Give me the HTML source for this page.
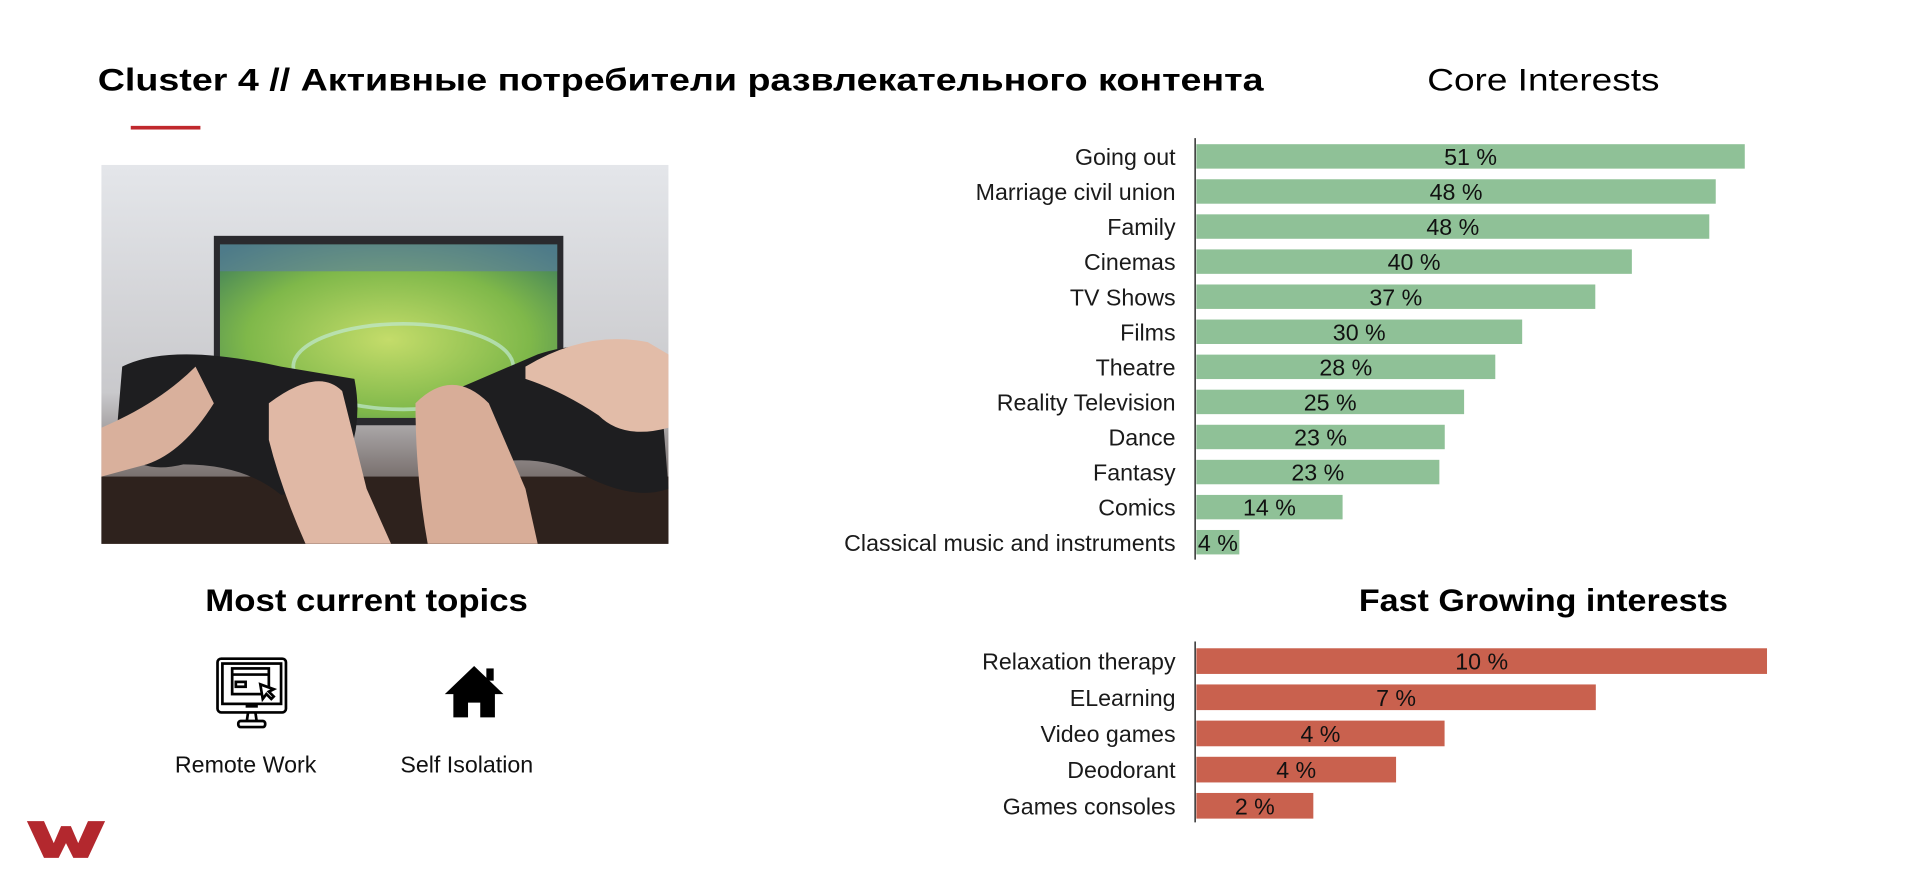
<!DOCTYPE html>
<html><head><meta charset="utf-8">
<style>
html,body{margin:0;padding:0;background:#fff;width:1916px;height:875px;overflow:hidden}
#stage{position:absolute;left:0;top:0;width:1568px;height:716px;transform:scale(1.222,1.222);transform-origin:0 0}
svg text{font-family:"Liberation Sans","Noto Sans CJK SC",sans-serif}
</style></head>
<body>
<div id="stage">
<svg width="1568" height="716" viewBox="0 0 1568 716" xmlns="http://www.w3.org/2000/svg">
  <defs>
    <linearGradient id="bg" x1="0" y1="0" x2="0" y2="1">
      <stop offset="0" stop-color="#e4e6ea"/><stop offset="0.6" stop-color="#c9c9cc"/><stop offset="1" stop-color="#3a2a24"/>
    </linearGradient>
    <radialGradient id="field" cx="0.5" cy="0.55" r="0.7">
      <stop offset="0" stop-color="#c4dc6a"/><stop offset="0.6" stop-color="#7fb84a"/><stop offset="1" stop-color="#3e7e5a"/>
    </radialGradient>
  </defs>
  <text x="80" y="74" font-size="26" font-weight="bold" fill="#000" textLength="954" lengthAdjust="spacingAndGlyphs">Cluster 4 // Активные потребители развлекательного контента</text>
  <rect x="107" y="103" width="57" height="3" fill="#c0282d"/>

  <g>
    <rect x="83" y="135" width="464" height="310" fill="url(#bg)"/>
    <rect x="83" y="390" width="464" height="55" fill="#2e221d"/>
    <rect x="175" y="193" width="286" height="155" fill="#2a2a2e"/>
    <rect x="180" y="200" width="276" height="142" fill="url(#field)"/>
    <rect x="180" y="200" width="276" height="22" fill="#5a7aa8" opacity="0.6"/>
    <ellipse cx="330" cy="300" rx="90" ry="35" fill="none" stroke="#bfe8d0" stroke-width="3" opacity="0.7"/>
    <path d="M100 300 Q140 280 230 300 L290 310 Q300 360 270 400 L230 405 Q200 380 150 380 Q110 390 95 360 Z" fill="#1e1e20"/>
    <path d="M370 320 L440 290 Q500 270 540 310 L547 400 Q520 410 480 390 Q440 370 400 380 L370 370 Z" fill="#1e1e20"/>
    <path d="M83 350 Q130 330 160 300 L175 330 Q150 370 120 380 L83 390 Z" fill="#d9b09c"/>
    <path d="M220 330 Q260 300 280 320 L300 400 L320 445 L250 445 Q230 400 220 360 Z" fill="#e0b8a5"/>
    <path d="M340 330 Q370 300 400 330 L430 400 L440 445 L350 445 Q340 390 340 330 Z" fill="#d8ad98"/>
    <path d="M430 300 Q480 270 530 280 L547 290 L547 350 Q510 360 490 340 Q460 320 430 310 Z" fill="#e2bca8"/>
  </g>

  <text x="1263" y="74" font-size="26" text-anchor="middle" fill="#000" textLength="190" lengthAdjust="spacingAndGlyphs">Core Interests</text>
  <text x="1263" y="500" font-size="26" font-weight="bold" text-anchor="middle" fill="#000" textLength="302" lengthAdjust="spacingAndGlyphs">Fast Growing interests</text>
  <text x="300" y="500" font-size="26" font-weight="bold" text-anchor="middle" fill="#000" textLength="264" lengthAdjust="spacingAndGlyphs">Most current topics</text>

  <g fill="none" stroke="#000" stroke-width="2.2">
    <rect x="178" y="539" width="56" height="44" rx="3"/>
    <rect x="182" y="543" width="48" height="33"/>
    <rect x="190" y="547" width="30" height="21"/>
    <line x1="190" y1="552" x2="220" y2="552"/>
    <rect x="193" y="558" width="8" height="4"/>
    <path d="M213 560 L215 572 L218 568 L222 572 L224 570 L220 566 L224 564 Z" fill="#fff"/>
    <line x1="201" y1="578" x2="211" y2="578"/>
    <line x1="203" y1="583" x2="202" y2="590"/><line x1="209" y1="583" x2="210" y2="590"/>
    <rect x="195" y="590" width="22" height="5" rx="2"/>
  </g>
  <g fill="#000">
    <path d="M388 545 L412 568 L405 568 L405 587 L393 587 L393 575 L383 575 L383 587 L371 587 L371 568 L364 568 Z"/>
    <rect x="398" y="547" width="6" height="10"/>
  </g>
  <text x="201" y="632" font-size="19" text-anchor="middle" fill="#111">Remote Work</text>
  <text x="382" y="632" font-size="19" text-anchor="middle" fill="#111">Self Isolation</text>

  <path d="M22 672 L36 672 L44 690 L50 676 L58 676 L64 690 L72 672 L86 672 L72 702 L60 702 L54 690 L48 702 L36 702 Z" fill="#b3282e"/>

  <g id="core"></g>
  <g id="fast"></g>
</svg>
</div>
<script>
const coreCategories = ["Going out","Marriage civil union","Family","Cinemas","TV Shows","Films","Theatre","Reality Television","Dance","Fantasy","Comics","Classical music and instruments"];
const coreValues = [51.0,48.3,47.7,40.5,37.1,30.3,27.8,24.9,23.1,22.6,13.6,4.0];
const coreLabels = ["51 %","48 %","48 %","40 %","37 %","30 %","28 %","25 %","23 %","23 %","14 %","4 %"];
const fastCategories = ["Relaxation therapy","ELearning","Video games","Deodorant","Games consoles"];
const fastValues = [10,7,4.35,3.5,2.05];
const fastLabels = ["10 %","7 %","4 %","4 %","2 %"];

const NS = "http://www.w3.org/2000/svg";
function mk(tag, attrs){const e=document.createElementNS(NS,tag);for(const k in attrs)e.setAttribute(k,attrs[k]);return e;}

function drawChart(g, cats, vals, labels, opt){
  const x = v => opt.x0 + v*opt.pxPer;
  const y = i => opt.y0 + i*opt.step;
  const axis = mk('line',{x1:opt.x0-1,x2:opt.x0-1,y1:opt.axisTop,y2:opt.axisBottom,stroke:'#000','stroke-width':1});
  
  
  g.appendChild(axis);
  cats.forEach((c,i)=>{
    const cy = y(i);
    const r = mk('rect',{x:opt.x0,y:cy-opt.h/2,width:x(vals[i])-opt.x0,height:opt.h,fill:opt.color});
    
    
    g.appendChild(r);
    const t = mk('text',{x:opt.x0-17,y:cy+7,'font-size':19,'text-anchor':'end',fill:'#1a1a1a'});
    t.textContent = c;
    
    
    g.appendChild(t);
    const v = mk('text',{x:(opt.x0+x(vals[i]))/2,y:cy+7,'font-size':19,'text-anchor':'middle',fill:'#111'});
    v.textContent = labels[i];
    
    
    g.appendChild(v);
  });
}
drawChart(document.getElementById('core'), coreCategories, coreValues, coreLabels,
  {x0:979,pxPer:8.8,y0:128,step:28.7,h:20,color:'#8fc197',axisTop:113,axisBottom:458,prefix:'core'});
drawChart(document.getElementById('fast'), fastCategories, fastValues, fastLabels,
  {x0:979,pxPer:46.7,y0:541,step:29.6,h:21,color:'#c9614e',axisTop:525,axisBottom:673,prefix:'fast'});
</script>
</body></html>
